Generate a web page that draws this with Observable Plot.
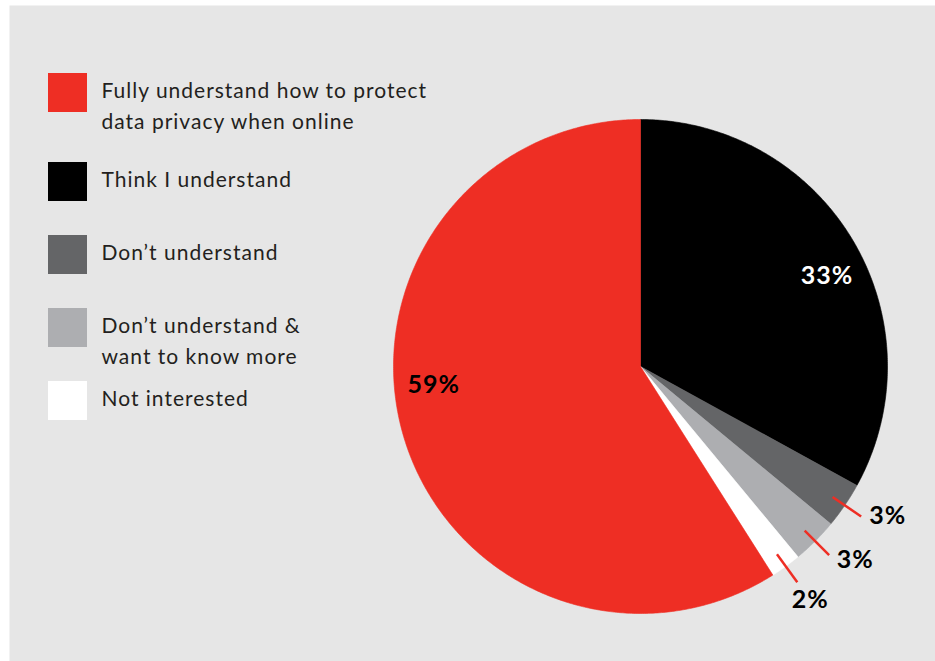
<!DOCTYPE html>
<html>
<head>
<meta charset="utf-8">
<script src="https://cdn.jsdelivr.net/npm/d3@7"></script>
<script src="https://cdn.jsdelivr.net/npm/@observablehq/plot@0.6"></script>
<style>
  html, body { margin: 0; padding: 0; background: #ffffff; }
  #chart { width: 935px; height: 661px; }
</style>
</head>
<body>
<div id="chart"></div>
<script>
// ---- data ----
const categories = [
  "Fully understand how to protect\ndata privacy when online",
  "Think I understand",
  "Don’t understand",
  "Don’t understand &\nwant to know more",
  "Not interested"
];
const values = [59, 33, 3, 3, 2];
const labels = ["59%", "33%", "3%", "3%", "2%"];
const colors = ["#ee2e24", "#000000", "#646567", "#adaeb1", "#ffffff"];

// ---- layout ----
const W = 935, H = 661;
const cx = 640, cy = 366, R = 247;
const pieOrder = [1, 2, 3, 4, 0];          // clockwise from 12 o'clock
const labelNudge = [11, 4.6, -3, -3, 0];    // degrees
const legendTop = [73, 162, 235, 308, 381];
const rad = Math.PI / 180;
const pt = (a, r) => [cx + r * Math.sin(a * rad), cy - r * Math.cos(a * rad)];

const total = d3.sum(values);
let acc = 0;
const slices = pieOrder.map(i => {
  const a0 = acc / total * 360; acc += values[i];
  const a1 = acc / total * 360;
  return {i, a0, a1, mid: (a0 + a1) / 2};
});

function slicePoints(s) {
  const pts = [{x: cx, y: cy}];
  const n = Math.max(2, Math.ceil((s.a1 - s.a0) / 0.5));
  for (let k = 0; k <= n; ++k) {
    const [x, y] = pt(s.a0 + (s.a1 - s.a0) * k / n, R);
    pts.push({x, y});
  }
  pts.push({x: cx, y: cy});
  return pts;
}

const labelRows = slices.map(s => {
  const big = values[s.i] > 10;
  const [x, y] = pt(s.mid + labelNudge[s.i], big ? 0.84 * R : 1.17 * R);
  return {x, y, text: labels[s.i], fill: s.i === 1 ? "#ffffff" : "#000000", big};
});
const leaders = slices.filter(s => values[s.i] <= 10).map(s => {
  const [x1, y1] = pt(s.mid, 0.94 * R);
  const [x2, y2] = pt(s.mid, 1.08 * R);
  return {x1, y1, x2, y2};
});

const legendRows = categories.map((c, i) => ({i, c}));

const marks = [Plot.frame({fill: "#e6e6e6", stroke: null})];
for (const s of slices) {
  marks.push(Plot.line(slicePoints(s), {
    x: "x", y: "y", fill: colors[s.i], stroke: colors[s.i], strokeWidth: 0.6, curve: "linear"
  }));
}
marks.push(
  Plot.link(leaders, {x1: "x1", y1: "y1", x2: "x2", y2: "y2", stroke: "#ee2e24", strokeWidth: 2.5}),
  Plot.text(labelRows, {
    x: "x", y: "y", text: "text", fill: "fill",
    fontSize: 25, fontWeight: "bold", textAnchor: "middle", lineAnchor: "middle"
  }),
  Plot.rect(legendRows, {
    x1: () => 48, x2: () => 87,
    y1: d => legendTop[d.i], y2: d => legendTop[d.i] + 39,
    fill: d => colors[d.i]
  }),
  Plot.text(legendRows, {
    x: () => 101, y: d => legendTop[d.i] + 2, text: "c",
    fontSize: 21, lineHeight: 1.48, textAnchor: "start", lineAnchor: "top", fill: "#231f20"
  })
);

const chart = Plot.plot({
  width: W, height: H,
  marginLeft: 9, marginTop: 5, marginRight: 0, marginBottom: 0,
  x: {domain: [9, W], axis: null},
  y: {domain: [H, 5], axis: null},
  style: {fontFamily: "Lato, 'Open Sans', sans-serif", background: "#ffffff", overflow: "visible", letterSpacing: "1px"},
  marks
});
document.getElementById("chart").appendChild(chart);
</script>
</body>
</html>
